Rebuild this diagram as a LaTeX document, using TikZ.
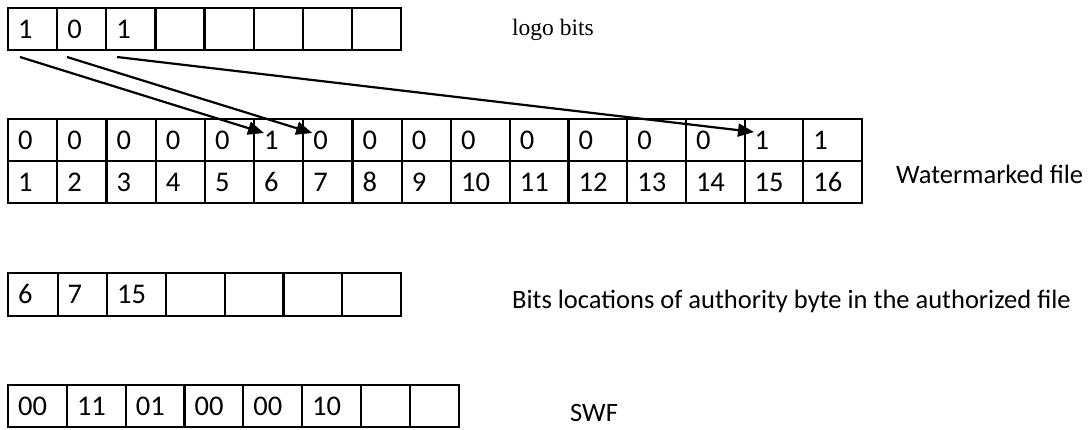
\documentclass[tikz,border=0pt]{standalone}
\usepackage{fontspec}
\setmainfont{Carlito}
\newfontfamily\timesfont{Liberation Serif}
\usetikzlibrary{arrows.meta}
\begin{document}
\begin{tikzpicture}[x=1pt,y=-1pt,
  cellbox/.style={draw, line width=2.2pt, rectangle, anchor=north west, inner sep=0pt},
  celltxt/.style={anchor=base west, inner sep=0pt, font=\fontsize{28.5}{32}\selectfont},
  lbl/.style={anchor=base west, inner sep=0pt, font=\fontsize{26.5}{30}\selectfont},
  arr/.style={line width=2.2pt, -{Triangle[length=16pt,width=13pt]}}]
\useasboundingbox (0,0) rectangle (1089,429);
% table 1: logo bits
\foreach \i/\t in {1/1,2/0,3/1,4/,5/,6/,7/,8/}{
  \pgfmathsetmacro\xx{7+(\i-1)*49.1}
  \node[cellbox, minimum width=49.1pt, minimum height=42pt] (lg\i) at (\xx,7) {};
  \node[celltxt] at ([xshift=11pt,yshift=-9pt]lg\i.west) {\t};
}
\node[anchor=base west, inner sep=0pt, font=\fontsize{23.5}{28}\timesfont] (logo) at (512,35) {logo bits};
% table 2: watermarked file
\foreach \i/\a in {1/0,2/0,3/0,4/0,5/0,6/1,7/0,8/0,9/0,10/0,11/0,12/0,13/0,14/0,15/1,16/1}{
  \pgfmathsetmacro\xx{\i<10 ? 7+(\i-1)*49.2 : 450+(\i-10)*58.7}
  \pgfmathsetmacro\ww{\i<10 ? 49.2 : 58.7}
  \node[cellbox, minimum width=\ww pt, minimum height=42pt] (wa\i) at (\xx,118) {};
  \node[celltxt] at ([xshift=11pt,yshift=-9pt]wa\i.west) {\a};
  \node[cellbox, minimum width=\ww pt, minimum height=42pt] (wb\i) at (\xx,160) {};
  \node[celltxt] at ([xshift=11pt,yshift=-9pt]wb\i.west) {\i};
}
\node[lbl] (wm) at (896,183) {Watermarked file};
% table 3: bit locations
\foreach \i/\t in {1/6,2/7,3/15,4/,5/,6/,7/}{
  \pgfmathsetmacro\xx{\i<3 ? 7+(\i-1)*49.5 : 106+(\i-3)*58.8}
  \pgfmathsetmacro\ww{\i<3 ? 49.5 : 58.8}
  \node[cellbox, minimum width=\ww pt, minimum height=43pt] (bl\i) at (\xx,272) {};
  \node[celltxt] at ([xshift=11pt,yshift=-9pt]bl\i.west) {\t};
}
\node[lbl] (bits) at (512,308) {Bits locations of authority byte in the authorized file};
% table 4: SWF
\foreach \i/\t in {1/00,2/11,3/01,4/00,5/00,6/10,7/,8/}{
  \pgfmathsetmacro\xx{\i<7 ? 7+(\i-1)*58.8 : 360+(\i-7)*49}
  \pgfmathsetmacro\ww{\i<7 ? 58.8 : 49}
  \node[cellbox, minimum width=\ww pt, minimum height=42pt] (sw\i) at (\xx,384) {};
  \node[celltxt] at ([xshift=11pt,yshift=-9pt]sw\i.west) {\t};
}
\node[lbl] (swf) at (570,421) {SWF};
% arrows
\coordinate (s1) at (20,57);
\coordinate (s2) at (67,57);
\coordinate (s3) at (117,57);
\draw[arr] (s1) -- ([xshift=11pt,yshift=-15pt]wa6.north west);
\draw[arr] (s2) -- ([xshift=10pt,yshift=-15pt]wa7.north west);
\draw[arr] (s3) -- ([xshift=10.5pt,yshift=-14pt]wa15.north west);
\end{tikzpicture}
\end{document}
